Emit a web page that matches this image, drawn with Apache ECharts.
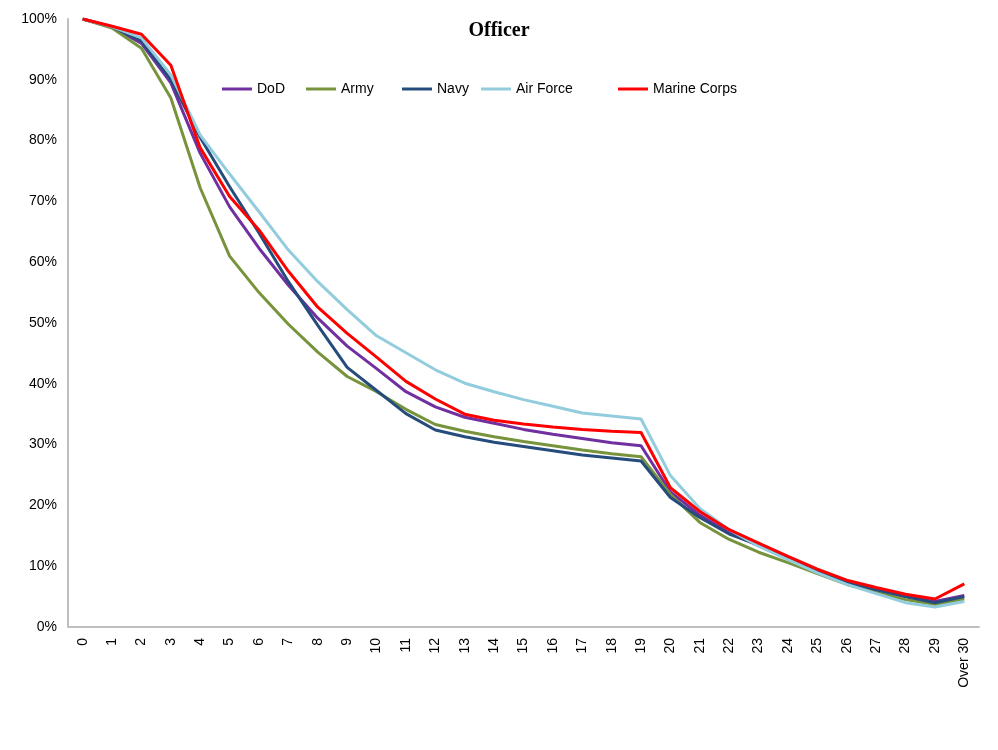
<!DOCTYPE html>
<html>
<head>
<meta charset="utf-8">
<script src="https://cdn.jsdelivr.net/npm/echarts@6/dist/echarts.min.js"></script>
<style>
  html, body { margin: 0; padding: 0; background: #fff; }
  #chart { width: 998px; height: 750px; }
</style>
</head>
<body>
<div id="chart"></div>
<script>
// 服务年限 categories
const categories = ['0', '1', '2', '3', '4', '5', '6', '7', '8', '9', '10', '11', '12', '13', '14', '15',
  '16', '17', '18', '19', '20', '21', '22', '23', '24', '25', '26', '27', '28', '29', 'Over 30'];

// retention (%) by service
const dod = [100, 98.7, 96.0, 89.5, 77.9, 69.1, 62.3, 56.2, 50.8, 46.2, 42.5, 38.7, 36.2, 34.5, 33.5, 32.5,
  31.7, 31.0, 30.3, 29.8, 22.2, 18.4, 15.5, 13.4, 11.3, 9.3, 7.5, 6.2, 5.0, 4.2, 5.2];
const army = [100, 98.5, 95.2, 87.0, 72.2, 61.0, 55.0, 49.8, 45.2, 41.2, 38.7, 35.8, 33.3, 32.2, 31.3, 30.5,
  29.8, 29.1, 28.5, 28.0, 21.8, 17.2, 14.4, 12.3, 10.6, 8.8, 7.0, 5.7, 4.5, 3.7, 4.6];
const navy = [100, 98.7, 96.4, 90.0, 80.5, 72.4, 64.8, 56.8, 49.6, 42.7, 38.9, 35.1, 32.4, 31.3, 30.4, 29.7,
  29.0, 28.3, 27.8, 27.3, 21.3, 18.0, 15.3, 13.5, 11.3, 9.2, 7.4, 6.1, 5.0, 4.0, 5.0];
const airForce = [100, 98.7, 96.9, 90.8, 80.9, 74.5, 68.3, 62.0, 56.8, 52.2, 47.9, 45.1, 42.3, 40.1, 38.7, 37.4,
  36.3, 35.2, 34.7, 34.2, 24.9, 19.5, 16.0, 13.3, 11.1, 8.9, 7.0, 5.5, 4.0, 3.3, 4.2];
const marineCorps = [100, 98.8, 97.5, 92.4, 78.8, 70.8, 65.3, 58.5, 52.6, 48.3, 44.4, 40.4, 37.5, 35.0, 34.0, 33.4,
  32.9, 32.5, 32.2, 32.0, 22.9, 19.0, 16.0, 13.8, 11.6, 9.5, 7.7, 6.5, 5.4, 4.6, 7.1];

const seriesDefs = [
  { name: 'DoD', data: dod, color: '#7030A0', legendLeft: 217 },
  { name: 'Army', data: army, color: '#77933C', legendLeft: 301 },
  { name: 'Navy', data: navy, color: '#254C7C', legendLeft: 397 },
  { name: 'Air Force', data: airForce, color: '#93CDDD', legendLeft: 476 },
  { name: 'Marine Corps', data: marineCorps, color: '#FF0000', legendLeft: 613 }
];

const myChart = echarts.init(document.getElementById('chart'));

const options = {
  backgroundColor: '#fff',
  animation: false,
  title: {
    text: 'Officer',
    left: 'center',
    top: 16,
    textStyle: { fontFamily: 'Liberation Serif', fontWeight: 'bold', fontSize: 20, color: '#000' }
  },
  // 每个图例项单独放置, 模仿Excel的间距
  legend: seriesDefs.map(s => ({
    data: [s.name],
    left: s.legendLeft,
    top: 77,
    itemWidth: 30,
    itemHeight: 3,
    icon: 'rect',
    itemGap: 0,
    textStyle: { fontFamily: 'Liberation Sans', fontSize: 14, color: '#000' }
  })),
  grid: { left: 68, right: 19, top: 19, bottom: 123 },
  xAxis: {
    type: 'category',
    data: categories,
    boundaryGap: true,
    axisLine: { lineStyle: { color: '#BFBFBF', width: 2 } },
    axisTick: { show: false },
    axisLabel: {
      rotate: 90,
      interval: 0,
      margin: 11,
      fontFamily: 'Liberation Sans',
      fontSize: 14,
      color: '#000'
    }
  },
  yAxis: {
    type: 'value',
    min: 0,
    max: 100,
    interval: 10,
    axisLine: { show: true, lineStyle: { color: '#BFBFBF', width: 2 } },
    axisTick: { show: false },
    splitLine: { show: false },
    axisLabel: {
      formatter: '{value}%',
      margin: 11,
      fontFamily: 'Liberation Sans',
      fontSize: 14,
      color: '#000'
    }
  },
  series: seriesDefs.map(s => ({
    name: s.name,
    type: 'line',
    data: s.data,
    symbol: 'none',
    color: s.color,
    lineStyle: { width: 3, color: s.color }
  }))
};

myChart.setOption(options);
</script>
</body>
</html>
